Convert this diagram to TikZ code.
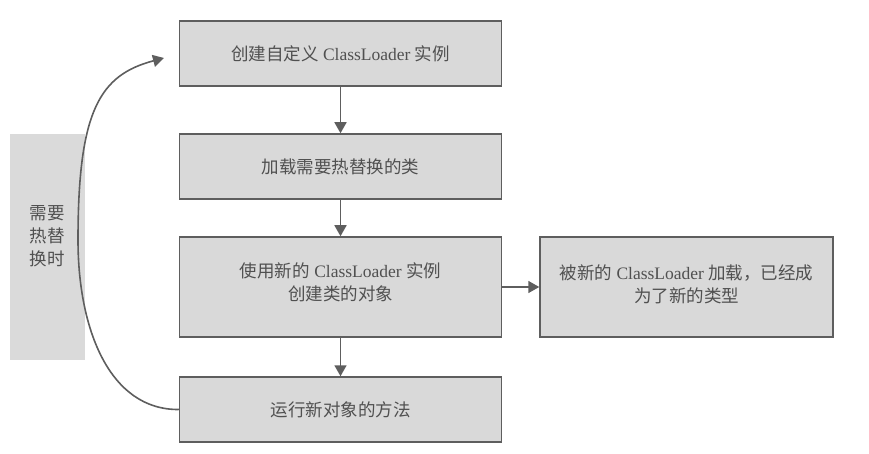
\documentclass[tikz,border=0pt]{standalone}
\usepackage{fontspec}
\setmainfont{Liberation Serif}
\newfontfamily\cjk{Noto Sans CJK SC}
\usetikzlibrary{arrows.meta}
\definecolor{boxfill}{HTML}{D9D9D9}
\definecolor{boxline}{HTML}{5E5E5E}
\definecolor{txt}{HTML}{505050}
\definecolor{barfill}{HTML}{DADADA}
\begin{document}
\begin{tikzpicture}[x=1pt,y=-1pt,
  box/.style={draw=boxline, line width=1.5pt, fill=boxfill, minimum width=322pt, text=txt,
    align=center, font=\fontsize{17.5}{23}\selectfont, inner sep=0pt},
  lbl/.style={text=txt, align=center, font=\fontsize{17.5}{23}\selectfont, inner sep=0pt},
  conn/.style={draw=boxline, line width=1.6pt, -{Triangle[width=12pt,length=11pt]}}]
\useasboundingbox[fill=white] (0,0) rectangle (869,454);
% left bar
\node[fill=barfill, minimum width=75pt, minimum height=226pt, inner sep=0pt] (bar) at (47.5,247) {};
\node[lbl] (bartxt) at (47,236) {\cjk 需要\\\cjk 热替\\\cjk 换时};
% boxes
\node[box, minimum height=65pt] (a) at (340.5,53.5) {{\cjk 创建自定义} ClassLoader {\cjk 实例}};
\node[box, minimum height=65pt] (b) at (340.5,166.5) {\cjk 加载需要热替换的类};
\node[box, minimum height=100pt] (c) at (340.5,287) {};
\node[lbl] (ctxt) at (340.5,282) {{\cjk 使用新的} ClassLoader {\cjk 实例}\\{\cjk 创建类的对象}};
\node[box, minimum height=65pt] (d) at (340.5,409.5) {\cjk 运行新对象的方法};
\node[box, minimum height=100pt, minimum width=293pt] (e) at (686.5,287) {};
\node[lbl] (etxt) at (686.5,284) {{\cjk 被新的} ClassLoader {\cjk 加载，已经成}\\{\cjk 为了新的类型}};
% connectors
\draw[conn] (a) -- (b);
\draw[conn] (b) -- (c);
\draw[conn] (c) -- (d);
\draw[conn] (c) -- (e);
\coordinate (tip) at (164,58);
\coordinate (mid) at (78,240);
\draw[conn] (d.west) .. controls (110,410) and (78,330) .. (mid) .. controls (78,110) and (100,75) .. (tip);
\end{tikzpicture}
\end{document}
